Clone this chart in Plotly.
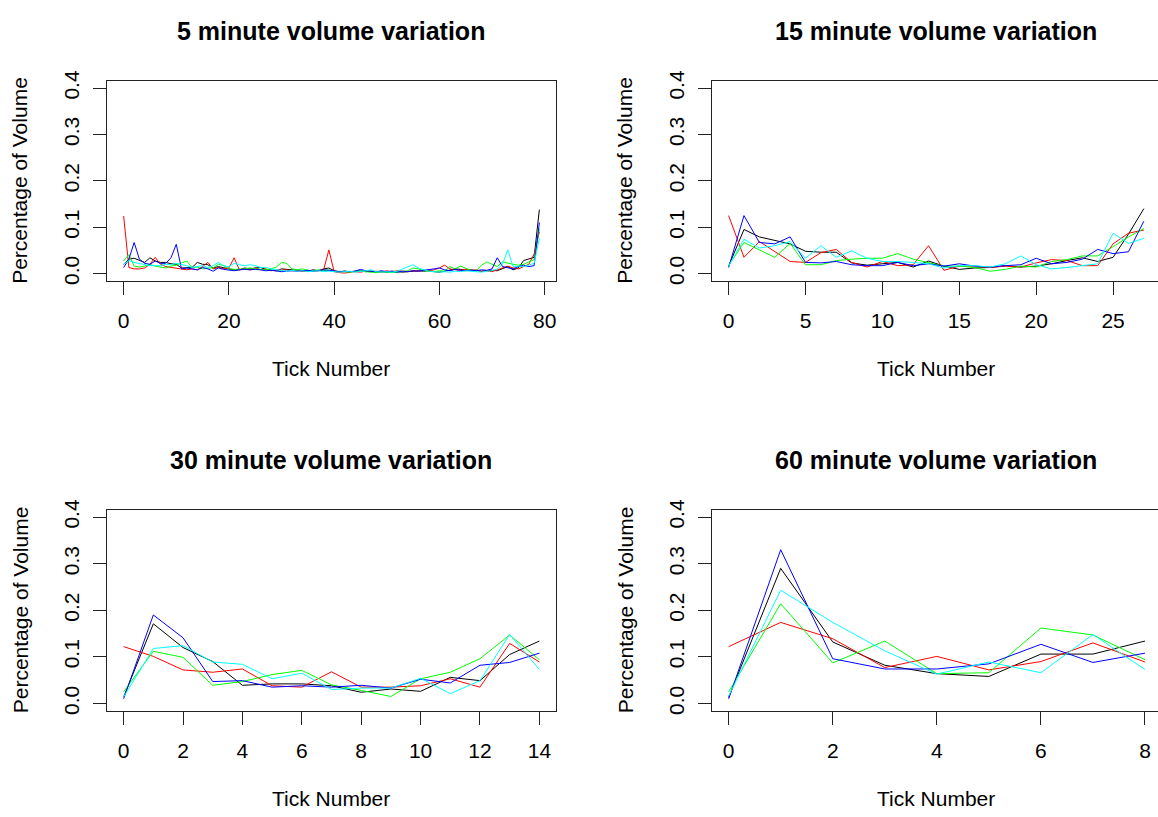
import plotly.graph_objects as go

# 5 minute ticks (0..79)
ticks_5 = list(range(80))
black_5 = [0.020, 0.031, 0.033, 0.029, 0.024, 0.034, 0.027, 0.024, 0.024, 0.021,
           0.020, 0.012, 0.012, 0.013, 0.024, 0.020, 0.019, 0.012, 0.015, 0.012,
           0.010, 0.008, 0.008, 0.012, 0.010, 0.012, 0.013, 0.009, 0.007, 0.006,
           0.010, 0.009, 0.008, 0.007, 0.006, 0.005, 0.008, 0.006, 0.010, 0.012,
           0.006, 0.004, 0.005, 0.004, 0.005, 0.006, 0.004, 0.005, 0.003, 0.004,
           0.003, 0.005, 0.004, 0.003, 0.004, 0.005, 0.006, 0.005, 0.006, 0.004,
           0.003, 0.005, 0.007, 0.010, 0.009, 0.007, 0.008, 0.006, 0.005, 0.006,
           0.007, 0.006, 0.010, 0.015, 0.008, 0.012, 0.028, 0.032, 0.035, 0.138]
red_5 = [0.124, 0.013, 0.010, 0.010, 0.012, 0.020, 0.035, 0.020, 0.015, 0.013,
         0.012, 0.010, 0.008, 0.010, 0.008, 0.015, 0.024, 0.010, 0.013, 0.010,
         0.012, 0.034, 0.008, 0.010, 0.008, 0.012, 0.008, 0.010, 0.006, 0.008,
         0.007, 0.008, 0.006, 0.007, 0.005, 0.006, 0.005, 0.006, 0.008, 0.051,
         0.004, 0.002, 0.001, 0.003, 0.004, 0.003, 0.005, 0.004, 0.005, 0.003,
         0.006, 0.004, 0.006, 0.005, 0.004, 0.006, 0.005, 0.007, 0.006, 0.008,
         0.012, 0.018, 0.010, 0.008, 0.007, 0.009, 0.006, 0.008, 0.005, 0.006,
         0.004, 0.008, 0.012, 0.016, 0.012, 0.010, 0.015, 0.020, 0.042, 0.090]
green_5 = [0.027, 0.041, 0.016, 0.014, 0.016, 0.020, 0.016, 0.014, 0.012, 0.016,
           0.018, 0.023, 0.027, 0.013, 0.014, 0.010, 0.012, 0.012, 0.020, 0.017,
           0.010, 0.009, 0.009, 0.010, 0.012, 0.010, 0.009, 0.008, 0.010, 0.014,
           0.024, 0.022, 0.010, 0.008, 0.010, 0.007, 0.006, 0.008, 0.006, 0.008,
           0.004, 0.005, 0.004, 0.003, 0.005, 0.006, 0.004, 0.003, 0.002, 0.004,
           0.003, 0.002, 0.003, 0.004, 0.006, 0.012, 0.010, 0.006, 0.005, 0.004,
           0.006, 0.005, 0.015, 0.010, 0.016, 0.012, 0.007, 0.006, 0.018, 0.025,
           0.020, 0.015, 0.025, 0.022, 0.020, 0.018, 0.020, 0.025, 0.030, 0.097]
blue_5 = [0.013, 0.031, 0.067, 0.031, 0.022, 0.020, 0.027, 0.022, 0.022, 0.034,
          0.063, 0.010, 0.012, 0.010, 0.008, 0.013, 0.010, 0.005, 0.012, 0.009,
          0.008, 0.006, 0.008, 0.009, 0.008, 0.009, 0.008, 0.006, 0.007, 0.005,
          0.004, 0.005, 0.006, 0.005, 0.006, 0.007, 0.005, 0.006, 0.008, 0.007,
          0.005, 0.004, 0.005, 0.004, 0.005, 0.009, 0.006, 0.005, 0.004, 0.006,
          0.004, 0.005, 0.003, 0.005, 0.004, 0.006, 0.005, 0.007, 0.008, 0.010,
          0.012, 0.008, 0.006, 0.009, 0.007, 0.006, 0.007, 0.006, 0.008, 0.007,
          0.010, 0.034, 0.015, 0.012, 0.010, 0.015, 0.018, 0.015, 0.017, 0.110]
cyan_5 = [0.020, 0.028, 0.024, 0.022, 0.019, 0.017, 0.017, 0.017, 0.020, 0.019,
          0.022, 0.020, 0.017, 0.013, 0.015, 0.017, 0.013, 0.017, 0.024, 0.017,
          0.015, 0.022, 0.019, 0.017, 0.019, 0.017, 0.013, 0.013, 0.010, 0.008,
          0.006, 0.005, 0.007, 0.005, 0.006, 0.004, 0.005, 0.006, 0.004, 0.005,
          0.004, 0.003, 0.004, 0.005, 0.003, 0.004, 0.006, 0.008, 0.004, 0.003,
          0.004, 0.003, 0.005, 0.010, 0.015, 0.019, 0.012, 0.008, 0.005, 0.004,
          0.003, 0.004, 0.003, 0.005, 0.004, 0.006, 0.005, 0.004, 0.003, 0.005,
          0.006, 0.010, 0.020, 0.051, 0.015, 0.016, 0.015, 0.018, 0.022, 0.076]

# 15 minute ticks (0..27)
ticks_15 = list(range(28))
black_15 = [0.016, 0.095, 0.079, 0.072, 0.064, 0.048, 0.046, 0.046, 0.023, 0.018,
            0.021, 0.024, 0.014, 0.027, 0.016, 0.009, 0.012, 0.013, 0.017, 0.014,
            0.016, 0.021, 0.028, 0.034, 0.026, 0.035, 0.085, 0.140]
red_15 = [0.125, 0.035, 0.069, 0.048, 0.026, 0.024, 0.045, 0.052, 0.024, 0.014,
          0.026, 0.017, 0.019, 0.060, 0.007, 0.016, 0.016, 0.013, 0.016, 0.014,
          0.023, 0.030, 0.028, 0.017, 0.017, 0.064, 0.087, 0.094]
green_15 = [0.017, 0.067, 0.051, 0.035, 0.065, 0.019, 0.019, 0.028, 0.031, 0.033,
            0.033, 0.043, 0.031, 0.023, 0.016, 0.016, 0.013, 0.005, 0.009, 0.016,
            0.014, 0.026, 0.030, 0.038, 0.038, 0.058, 0.079, 0.097]
blue_15 = [0.013, 0.125, 0.067, 0.064, 0.079, 0.024, 0.023, 0.026, 0.019, 0.017,
           0.017, 0.024, 0.017, 0.021, 0.016, 0.021, 0.016, 0.014, 0.017, 0.019,
           0.033, 0.021, 0.024, 0.031, 0.052, 0.043, 0.047, 0.113]
cyan_15 = [0.016, 0.074, 0.055, 0.060, 0.069, 0.033, 0.060, 0.035, 0.049, 0.033,
           0.026, 0.026, 0.024, 0.021, 0.012, 0.017, 0.017, 0.014, 0.021, 0.038,
           0.019, 0.010, 0.013, 0.017, 0.021, 0.087, 0.065, 0.076]

# 30 minute ticks (0..14)
ticks_30 = list(range(15))
black_30 = [0.014, 0.171, 0.120, 0.090, 0.039, 0.042, 0.042, 0.038, 0.024, 0.031,
            0.026, 0.056, 0.049, 0.105, 0.134]
red_30 = [0.122, 0.101, 0.072, 0.067, 0.074, 0.038, 0.035, 0.068, 0.035, 0.035,
          0.038, 0.053, 0.035, 0.129, 0.089]
green_30 = [0.025, 0.112, 0.099, 0.039, 0.047, 0.062, 0.071, 0.040, 0.028, 0.015,
            0.053, 0.067, 0.096, 0.147, 0.094]
blue_30 = [0.010, 0.190, 0.141, 0.047, 0.049, 0.035, 0.038, 0.035, 0.039, 0.033,
           0.052, 0.044, 0.082, 0.088, 0.108]
cyan_30 = [0.014, 0.118, 0.124, 0.089, 0.084, 0.053, 0.065, 0.030, 0.033, 0.033,
           0.054, 0.021, 0.049, 0.148, 0.073]

# 60 minute ticks (0..8)
ticks_60 = list(range(9))
black_60 = [0.013, 0.290, 0.132, 0.082, 0.064, 0.058, 0.106, 0.106, 0.134]
red_60 = [0.122, 0.174, 0.139, 0.077, 0.101, 0.072, 0.090, 0.130, 0.089]
green_60 = [0.025, 0.214, 0.087, 0.134, 0.064, 0.066, 0.162, 0.147, 0.094]
blue_60 = [0.010, 0.330, 0.096, 0.074, 0.074, 0.085, 0.127, 0.088, 0.108]
cyan_60 = [0.016, 0.243, 0.174, 0.113, 0.063, 0.089, 0.066, 0.148, 0.073]

titles = ["5 minute volume variation", "15 minute volume variation",
          "30 minute volume variation", "60 minute volume variation"]
x_label = "Tick Number"
y_label = "Percentage of Volume"
colors = ["black", "#ff0000", "#00ff00", "#0000ff", "#00ffff"]

W, H = 1158, 817
FONT = "Liberation Sans, Arial, sans-serif"

# (x values, series, x range, dtick, box left/right px, box top/bottom px, title centre px)
panels = [
    (ticks_5, [black_5, red_5, green_5, blue_5, cyan_5], [-3.16, 82.16], 20, 107, 556, 71, 275, 331),
    (ticks_15, [black_15, red_15, green_15, blue_15, cyan_15], [-1.08, 27.92], 5, 712, 1158, 71, 275, 936),
    (ticks_30, [black_30, red_30, green_30, blue_30, cyan_30], [-0.56, 14.56], 2, 107, 556, 508, 713, 331),
    (ticks_60, [black_60, red_60, green_60, blue_60, cyan_60], [-0.32, 8.25], 2, 712, 1158, 508, 713, 936),
]

fig = go.Figure()
annotations = []
for k, (xs, series, xr, dt, left, right, top, bottom, tc) in enumerate(panels):
    n = k + 1
    xa = "x" if n == 1 else "x%d" % n
    ya = "y" if n == 1 else "y%d" % n
    for s, c in zip(series, colors):
        fig.add_trace(go.Scatter(x=xs, y=s, mode="lines", line=dict(color=c, width=1),
                                 xaxis=xa, yaxis=ya, showlegend=False, hoverinfo="skip"))
    # the right-hand panels are cut off at the edge of the image, so no right border
    right_side = right >= W
    fig.update_layout({
        ("xaxis" if n == 1 else "xaxis%d" % n): dict(
            domain=[left / W, right / W], anchor=ya, range=xr, tick0=0, dtick=dt,
            showgrid=False, zeroline=False, showline=True, linecolor="#222", linewidth=1,
            mirror=True, ticks="outside", ticklen=13, tickcolor="#222",
            ticklabelstandoff=8, tickfont=dict(size=21, color="black", family=FONT)),
        ("yaxis" if n == 1 else "yaxis%d" % n): dict(
            domain=[1 - bottom / H, 1 - top / H], anchor=xa, range=[-0.016, 0.416],
            tick0=0, dtick=0.1, tickformat=".1f", tickangle=-90,
            showgrid=False, zeroline=False, showline=True, linecolor="#222", linewidth=1,
            mirror=not right_side, ticks="outside", ticklen=13, tickcolor="#222",
            ticklabelstandoff=6, tickfont=dict(size=21, color="black", family=FONT)),
    })
    # title
    annotations.append(dict(text="<b>%s</b>" % titles[k], x=tc / W, y=1 - (top - 51) / H,
                            xref="paper", yref="paper", showarrow=False,
                            xanchor="center", yanchor="middle",
                            font=dict(size=25, color="black", family=FONT)))
    # x label
    annotations.append(dict(text=x_label, x=tc / W, y=1 - (bottom + 89) / H,
                            xref="paper", yref="paper", showarrow=False,
                            xanchor="center", yanchor="middle",
                            font=dict(size=21, color="black", family=FONT)))
    # y label
    annotations.append(dict(text=y_label, x=(left - 87) / W, y=1 - (top + bottom) / 2 / H,
                            xref="paper", yref="paper", showarrow=False, textangle=-90,
                            xanchor="center", yanchor="middle",
                            font=dict(size=21, color="black", family=FONT)))

fig.update_layout(width=W, height=H, autosize=False,
                  margin=dict(l=0, r=0, t=0, b=0),
                  paper_bgcolor="white", plot_bgcolor="white",
                  annotations=annotations)

fig.write_html("out.html", config={"displayModeBar": False},
               post_script="document.body.style.margin='0';")
